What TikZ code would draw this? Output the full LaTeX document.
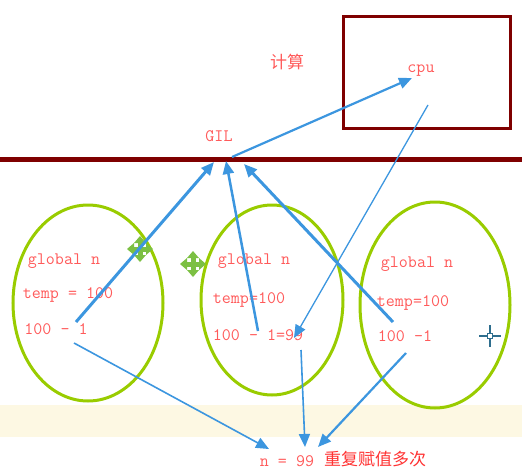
\documentclass[tikz,border=0pt]{standalone}
\usepackage{fontspec}
\usepackage{xcolor}
\usetikzlibrary{arrows.meta}
\newfontfamily\cjk{Noto Sans CJK SC}

\definecolor{gilred}{HTML}{7F0000}
\definecolor{txtred}{HTML}{FF5A5A}
\definecolor{noteRed}{HTML}{FF3333}
\definecolor{arrblue}{HTML}{3C96DF}
\definecolor{ovalgreen}{HTML}{99CC00}
\definecolor{bandyellow}{HTML}{FDF8E3}
\definecolor{movegreen}{HTML}{7CC043}
\definecolor{crossblue}{HTML}{2E6E8E}

\tikzset{
  lbl/.style={text=txtred, font=\fontsize{17.5}{20}\selectfont\ttfamily, inner sep=0pt},
  oval/.style={draw=ovalgreen, line width=3pt},
  flow/.style={draw=arrblue, line width=3pt, -{Triangle[length=13pt,width=11pt]}},
  thinflow/.style={flow, line width=1.6pt},
  movecross/.pic={
    \fill[movegreen] (-7,-2.5) rectangle (7,2.5);
    \fill[movegreen] (-2.5,-7) rectangle (2.5,7);
    \fill[movegreen] (-13,0) -- (-6,-6) -- (-6,6) -- cycle;
    \fill[movegreen] (13,0) -- (6,-6) -- (6,6) -- cycle;
    \fill[movegreen] (0,-13) -- (-6,-6) -- (6,-6) -- cycle;
    \fill[movegreen] (0,13) -- (-6,6) -- (6,6) -- cycle;
  },
}

\begin{document}
\begin{tikzpicture}[x=1pt, y=-1pt]
    \useasboundingbox (0,0) rectangle (522,471);

    % background band and GIL line
    \fill[bandyellow] (0,405) rectangle (522,437);
    \draw[gilred, line width=5pt] (0,159) -- (522,159);
    \draw[gilred, line width=3pt] (343,16) rectangle (510,128);

    \node[lbl, font=\fontsize{17}{20}\selectfont\cjk] (calc) at (287,62) {计算};
    \node[lbl] (cpu) at (421,71) {cpu};
    \node[lbl] (gil) at (219,136) {GIL};

    % threads
    \draw[oval] (88,303) ellipse [x radius=75pt, y radius=98pt];
    \draw[oval] (272,300) ellipse [x radius=71pt, y radius=95pt];
    \draw[oval] (435,305) ellipse [x radius=75pt, y radius=103pt];

    \node[lbl] (g1) at (64,261) {global n};
    \node[lbl] (t1) at (68,295) {temp = 100};
    \node[lbl] (s1) at (56,329) {100 - 1};

    \node[lbl] (g2) at (254,261) {global n};
    \node[lbl] (t2) at (249,300) {temp=100};
    \node[lbl] (s2) at (258,335) {100 - 1=99};

    \node[lbl] (g3) at (417,264) {global n};
    \node[lbl] (t3) at (413,303) {temp=100};
    \node[lbl] (s3) at (405,336) {100 -1};

    \node[lbl] (res) at (287,461) {n = 99};
    \node[lbl, text=noteRed, font=\fontsize{17}{20}\selectfont\cjk] (note) at (375,459) {重复赋值多次};

    % cursor marks
    \pic at (140,249) {movecross};
    \pic at (193,264) {movecross};
    \draw[crossblue, line width=1.5pt] (479,336) -- (501,336);
    \draw[crossblue, line width=1.5pt] (490,325) -- (490,347);
    \draw[crossblue, line width=1.2pt, fill=white] (487.5,333.5) rectangle (492.5,338.5);

    % connectors
    \coordinate (gilL) at (214,162);
    \coordinate (gilM) at (226,161);
    \coordinate (gilR) at (244,164);
    \coordinate (gilO) at (232,157);
    \coordinate (cpuI) at (412,78);
    \coordinate (cpuO) at (428,105);
    \coordinate (hit) at (294,338);
    \coordinate (a1) at (76,322);
    \coordinate (a2) at (258,331);
    \coordinate (a3) at (393,322);
    \coordinate (b1) at (74,343);
    \coordinate (b2) at (301,350);
    \coordinate (b3) at (406,353);
    \coordinate (n1) at (269,449);
    \coordinate (n2) at (305,447);
    \coordinate (n3) at (318,447);

    \draw[flow] (a1) -- (gilL);
    \draw[flow, line width=2.5pt] (a2) -- (gilM);
    \draw[flow] (a3) -- (gilR);
    \draw[flow, line width=2.2pt] (gilO) -- (cpuI);
    \draw[thinflow, line width=1.3pt] (cpuO) -- (hit);
    \draw[thinflow] (b1) -- (n1);
    \draw[thinflow] (b2) -- (n2);
    \draw[thinflow, line width=2.2pt] (b3) -- (n3);
\end{tikzpicture}
\end{document}
